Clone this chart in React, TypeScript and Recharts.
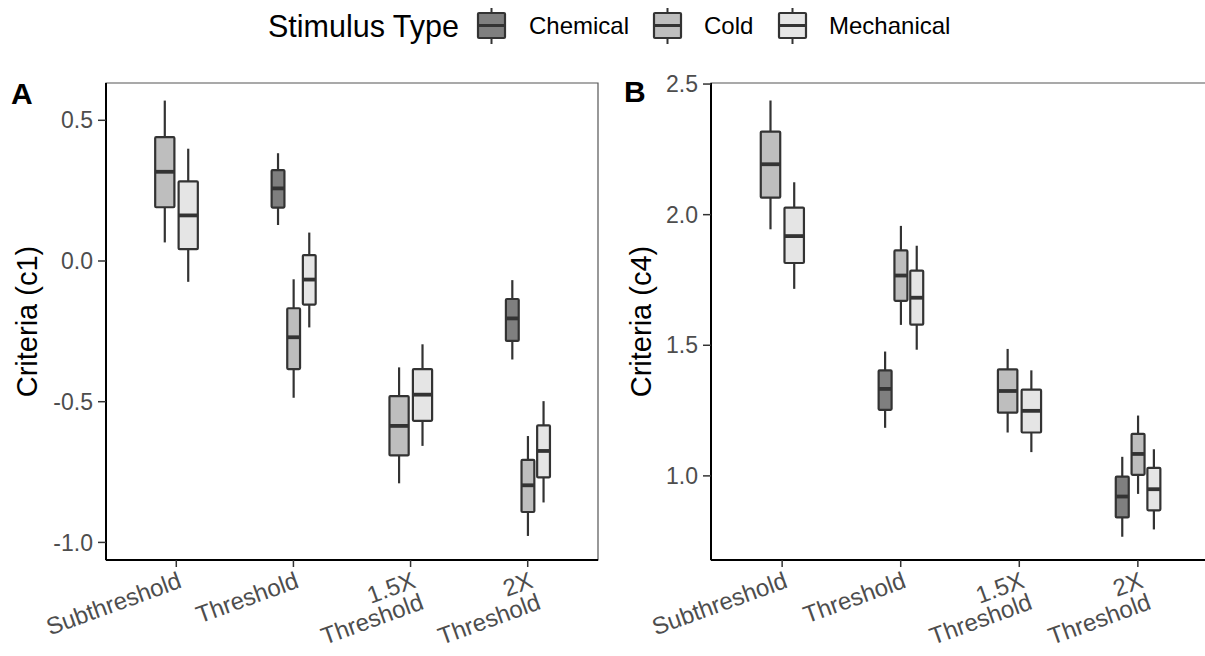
import { ComposedChart, Bar, XAxis, YAxis, ReferenceArea } from "recharts";

const categories = ["Subthreshold", "Threshold", "1.5X\nThreshold", "2X\nThreshold"];
const stimuli = ["Chemical", "Cold", "Mechanical"];
const stimulusFill = ["#7f7f7f", "#bebebe", "#e5e5e5"];

// each box: [lower whisker, Q1, median, Q3, upper whisker], null = not tested
const c1Chemical = [null, [0.128, 0.19, 0.258, 0.323, 0.383], null, [-0.35, -0.284, -0.204, -0.135, -0.068]];
const c1Cold = [
  [0.066, 0.191, 0.317, 0.44, 0.57],
  [-0.486, -0.384, -0.271, -0.168, -0.065],
  [-0.79, -0.691, -0.586, -0.48, -0.378],
  [-0.977, -0.892, -0.797, -0.707, -0.622],
];
const c1Mechanical = [
  [-0.074, 0.042, 0.162, 0.283, 0.399],
  [-0.236, -0.155, -0.066, 0.021, 0.101],
  [-0.657, -0.568, -0.475, -0.384, -0.296],
  [-0.858, -0.769, -0.675, -0.584, -0.498],
];

const c4Chemical = [null, [1.184, 1.253, 1.333, 1.404, 1.476], null, [0.767, 0.841, 0.921, 0.997, 1.073]];
const c4Cold = [
  [1.944, 2.065, 2.193, 2.318, 2.437],
  [1.578, 1.67, 1.767, 1.863, 1.957],
  [1.166, 1.242, 1.325, 1.408, 1.486],
  [0.931, 1.004, 1.084, 1.161, 1.231],
];
const c4Mechanical = [
  [1.716, 1.815, 1.918, 2.027, 2.124],
  [1.483, 1.579, 1.682, 1.786, 1.881],
  [1.091, 1.166, 1.249, 1.33, 1.404],
  [0.795, 0.868, 0.949, 1.031, 1.102],
];

const c1Ticks = [-1, -0.5, 0, 0.5];
const c4Ticks = [1, 1.5, 2, 2.5];
const catTicks = [1, 2, 3, 4];

const X_MIN = 0.4;
const X_MAX = 4.6;
const DODGE = 0.4;

const FONT = "'Liberation Sans', Arial, sans-serif";
const INK = "#333333";

// dodge the boxes that exist in each category, like ggplot's position_dodge2
function buildRows(series) {
  const rows = [];
  categories.forEach((cat, i) => {
    const present = [];
    series.forEach((s, k) => {
      if (s[i]) present.push({ k, stat: s[i] });
    });
    const n = present.length;
    present.forEach((p, j) => {
      rows.push({
        x: i + 1 + (j - (n - 1) / 2) * (DODGE / n),
        stat: p.stat,
        fill: stimulusFill[p.k],
        n,
      });
    });
  });
  return rows;
}

function BoxShape(props) {
  const { x, y, width, height, payload, pxPerUnit } = props;
  if (x == null || y == null) return null;
  const [lo, q1, med, q3, hi] = payload.stat;
  const top = Math.min(y, y + height);
  const bottom = Math.max(y, y + height);
  const pix = (v) => bottom - ((v - lo) / (hi - lo)) * (bottom - top);
  const cx = x + width / 2;
  const w = (DODGE / payload.n) * 0.82 * pxPerUnit;
  return (
    <g>
      <line x1={cx} x2={cx} y1={top} y2={bottom} stroke={INK} strokeWidth={2.2} />
      <rect
        x={cx - w / 2}
        y={pix(q3)}
        width={w}
        height={pix(q1) - pix(q3)}
        fill={payload.fill}
        stroke={INK}
        strokeWidth={2.2}
        rx={1}
      />
      <line x1={cx - w / 2} x2={cx + w / 2} y1={pix(med)} y2={pix(med)} stroke={INK} strokeWidth={3.8} />
    </g>
  );
}

function CatTick(props) {
  const { x, y, payload } = props;
  const lines = categories[payload.value - 1].split("\n");
  return (
    <g transform={`translate(${x},${y})`}>
      <text transform="rotate(-20)" textAnchor="end" fill="#4d4d4d" fontSize={24} fontFamily={FONT}>
        {lines.map((l, i) => (
          <tspan key={i} x={0} dy={i === 0 ? "0.8em" : "0.95em"}>
            {l}
          </tspan>
        ))}
      </text>
    </g>
  );
}

function Panel({ rows, ticks, domain, title, width, yAxisWidth, marginRight, titleX }) {
  const height = 656;
  const plotWidth = width - yAxisWidth - marginRight;
  const pxPerUnit = plotWidth / (X_MAX - X_MIN);
  return (
    <ComposedChart width={width} height={height} data={rows} margin={{ top: 83, right: marginRight, bottom: 0, left: 0 }}>
      <ReferenceArea
        x1={X_MIN}
        x2={X_MAX}
        y1={domain[0]}
        y2={domain[1]}
        fill="none"
        stroke="#555555"
        strokeWidth={1.2}
        ifOverflow="visible"
      />
      <XAxis
        type="number"
        dataKey="x"
        domain={[X_MIN, X_MAX]}
        ticks={catTicks}
        allowDataOverflow
        height={96}
        tickSize={7}
        tickMargin={2}
        axisLine={{ stroke: "#000", strokeWidth: 2 }}
        tickLine={{ stroke: INK, strokeWidth: 1.5 }}
        tick={<CatTick />}
        interval={0}
      />
      <YAxis
        type="number"
        domain={domain}
        ticks={ticks}
        allowDataOverflow
        width={yAxisWidth}
        tickSize={8}
        tickMargin={5}
        tickFormatter={(v) => v.toFixed(1)}
        tick={{ fill: "#4d4d4d", fontSize: 23, fontFamily: FONT }}
        axisLine={{ stroke: "#000", strokeWidth: 2 }}
        tickLine={{ stroke: INK, strokeWidth: 1.5 }}
        interval={0}
        label={({ viewBox }) => (
          <text
            x={titleX}
            y={viewBox.y + viewBox.height / 2}
            transform={`rotate(-90, ${titleX}, ${viewBox.y + viewBox.height / 2})`}
            textAnchor="middle"
            dominantBaseline="central"
            fontSize={29}
            fontFamily={FONT}
            fill="#000"
          >
            {title}
          </text>
        )}
      />
      <Bar
        dataKey={(r) => [r.stat[0], r.stat[4]]}
        barSize={20}
        isAnimationActive={false}
        shape={(p) => <BoxShape {...p} pxPerUnit={pxPerUnit} />}
      />
    </ComposedChart>
  );
}

function LegendKey({ x, fill }) {
  return (
    <g>
      <line x1={x + 13.5} x2={x + 13.5} y1={8} y2={44} stroke={INK} strokeWidth={2} />
      <rect x={x} y={13} width={27} height={25} fill={fill} stroke={INK} strokeWidth={2.2} rx={1} />
      <line x1={x} x2={x + 27} y1={25.5} y2={25.5} stroke={INK} strokeWidth={3} />
    </g>
  );
}

const keyX = [478, 654, 779];
const labelX = [529, 704, 829];

export default function App() {
  const rowsA = buildRows([c1Chemical, c1Cold, c1Mechanical]);
  const rowsB = buildRows([c4Chemical, c4Cold, c4Mechanical]);
  return (
    <div
      style={{
        position: "absolute",
        left: 0,
        top: 0,
        width: 1205,
        height: 656,
        overflow: "hidden",
        background: "#fff",
        fontFamily: FONT,
      }}
    >
      <svg width={1205} height={56} style={{ position: "absolute", left: 0, top: 0 }}>
        <text x={268} y={37} fontSize={30.5} fontFamily={FONT} fill="#000">
          Stimulus Type
        </text>
        {stimuli.map((s, i) => (
          <g key={s}>
            <LegendKey x={keyX[i]} fill={stimulusFill[i]} />
            <text x={labelX[i]} y={34} fontSize={24} fontFamily={FONT} fill="#000">
              {s}
            </text>
          </g>
        ))}
      </svg>
      <div style={{ position: "absolute", left: 0, top: 0 }}>
        <Panel
          rows={rowsA}
          ticks={c1Ticks}
          domain={[-1.0625, 0.6325]}
          title="Criteria (c1)"
          width={610}
          yAxisWidth={106}
          marginRight={12}
          titleX={27}
        />
      </div>
      <div style={{ position: "absolute", left: 610, top: 0 }}>
        <Panel
          rows={rowsB}
          ticks={c4Ticks}
          domain={[0.678, 2.504]}
          title="Criteria (c4)"
          width={600}
          yAxisWidth={101}
          marginRight={1}
          titleX={31}
        />
      </div>
      <div style={{ position: "absolute", left: 11, top: 78, fontSize: 30, fontWeight: "bold", lineHeight: "32px" }}>A</div>
      <div style={{ position: "absolute", left: 624, top: 76, fontSize: 30, fontWeight: "bold", lineHeight: "32px" }}>B</div>
    </div>
  );
}
